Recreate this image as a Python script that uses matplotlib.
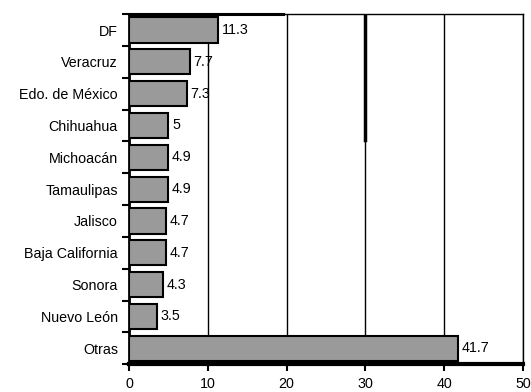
import matplotlib
matplotlib.use("Agg")
import matplotlib.pyplot as plt
import numpy as np

plt.rcParams['font.family'] = ['Liberation Sans', 'DejaVu Sans']

estados = ["DF", "Veracruz", "Edo. de México", "Chihuahua", "Michoacán",
           "Tamaulipas", "Jalisco", "Baja California", "Sonora", "Nuevo León", "Otras"]
valores = [11.3, 7.7, 7.3, 5, 4.9, 4.9, 4.7, 4.7, 4.3, 3.5, 41.7]
etiquetas = ["11.3", "7.7", "7.3", "5", "4.9", "4.9", "4.7", "4.7", "4.3", "3.5", "41.7"]
xticks = [0, 10, 20, 30, 40, 50]

FS = 10.3

fig = plt.figure(figsize=(5.31, 3.92), dpi=100)
ax = fig.add_axes([0.243, 0.071, 0.742, 0.893])

y = np.arange(len(estados))
ax.set_xlim(0, 50)
ax.set_ylim(len(estados) - 0.5, -0.5)

# vertical grid lines, drawn over the value labels but under the bars
for t in xticks[1:]:
    ax.axvline(t, color='black', lw=1.0, zorder=2)
# heavier stroke on the upper part of the 30 line and the left part of the top edge
ax.axvline(30, ymin=0.64, ymax=1.0, color='black', lw=2.5, zorder=2)
ax.axhline(-0.5, xmin=0.0, xmax=0.39, color='black', lw=2.2, zorder=2, clip_on=False)

ax.barh(y, valores, height=0.79, color='#9a9a9a', edgecolor='black',
        linewidth=1.5, zorder=3)

for yi, v, lab in zip(y, valores, etiquetas):
    ax.text(v + 0.45, yi, lab, va='center', ha='left', fontsize=FS, zorder=1)

ax.set_xticks(xticks)
ax.set_xticklabels([str(t) for t in xticks], fontsize=FS)
ax.set_yticks(np.arange(len(estados) + 1) - 0.5, minor=True)
ax.set_yticks(y)
ax.set_yticklabels(estados, fontsize=FS)
ax.tick_params(axis='y', which='major', length=0, pad=8)
ax.tick_params(axis='y', which='minor', length=5, width=1.5, direction='out')
ax.tick_params(axis='x', length=5, width=1.5, direction='out', pad=4)

for s in ['top', 'right']:
    ax.spines[s].set_linewidth(1.0)
ax.spines['left'].set_linewidth(2.0)
ax.spines['bottom'].set_linewidth(3.0)

fig.savefig("out.png", dpi=100)
